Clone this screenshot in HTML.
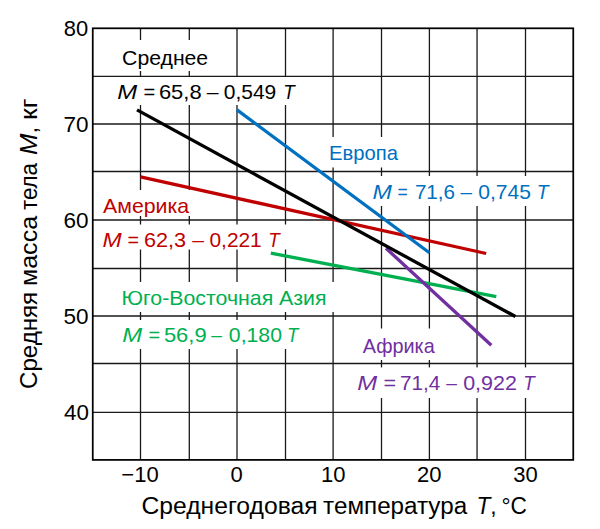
<!DOCTYPE html><html><head><meta charset="utf-8"><style>html,body{margin:0;padding:0;background:#fff;}svg{display:block;}text{font-family:"Liberation Sans",sans-serif;}</style></head><body>
<svg width="600" height="529" viewBox="0 0 600 529">
<rect x="0" y="0" width="600" height="529" fill="#fff"/>
<path d="M140.50 28.05V459.96M189.30 28.05V459.96M237.00 28.05V459.96M285.50 28.05V459.96M333.10 28.05V459.96M381.50 28.05V459.96M429.40 28.05V459.96M477.05 28.05V459.96M525.50 28.05V459.96M92.88 412.30H573.52M92.88 363.50H573.52M92.88 316.00H573.52M92.88 268.50H573.52M92.88 220.00H573.52M92.88 171.50H573.52M92.88 124.00H573.52M92.88 76.30H573.52" stroke="#1a1a1a" stroke-width="1.3" fill="none"/>
<rect x="110" y="40" width="110" height="31" fill="#fff"/>
<rect x="110" y="77" width="190" height="28" fill="#fff"/>
<rect x="320" y="137" width="85" height="30.5" fill="#fff"/>
<rect x="365" y="176" width="190" height="30" fill="#fff"/>
<rect x="98" y="190" width="102" height="26" fill="#fff"/>
<rect x="98" y="224.5" width="192" height="25.0" fill="#fff"/>
<rect x="115" y="282" width="225" height="30" fill="#fff"/>
<rect x="115" y="320" width="190" height="29" fill="#fff"/>
<rect x="355" y="328.5" width="90" height="31.5" fill="#fff"/>
<rect x="350" y="367.4" width="190" height="30.600000000000023" fill="#fff"/>
<rect x="92.75" y="28.3" width="480.5" height="431.59999999999997" stroke="#000" stroke-width="1.75" fill="none"/>
<line x1="140.50" y1="176.84" x2="486.20" y2="253.49" stroke="#c00000" stroke-width="3.3"/>
<line x1="270.80" y1="253.07" x2="496.30" y2="296.55" stroke="#00b050" stroke-width="3.3"/>
<line x1="237.00" y1="109.83" x2="429.40" y2="252.78" stroke="#0070c0" stroke-width="3.3"/>
<line x1="386.00" y1="248.27" x2="491.30" y2="345.20" stroke="#7030a0" stroke-width="3.3"/>
<line x1="137.00" y1="109.89" x2="515.40" y2="316.53" stroke="#000000" stroke-width="3.3"/>
<text x="63.80" y="35.80" font-size="22" fill="#000" textLength="24.42" lengthAdjust="spacingAndGlyphs">80</text>
<text x="63.60" y="131.80" font-size="22" fill="#000" textLength="25.07" lengthAdjust="spacingAndGlyphs">70</text>
<text x="63.60" y="227.80" font-size="22" fill="#000" textLength="25.07" lengthAdjust="spacingAndGlyphs">60</text>
<text x="63.60" y="323.80" font-size="22" fill="#000" textLength="25.07" lengthAdjust="spacingAndGlyphs">50</text>
<text x="64.00" y="419.80" font-size="22" fill="#000" textLength="24.91" lengthAdjust="spacingAndGlyphs">40</text>
<text x="140.00" y="482.40" font-size="22" fill="#000" text-anchor="middle">−10</text>
<text x="236.55" y="482.40" font-size="22" fill="#000" text-anchor="middle">0</text>
<text x="333.25" y="482.40" font-size="22" fill="#000" text-anchor="middle">10</text>
<text x="429.25" y="482.40" font-size="22" fill="#000" text-anchor="middle">20</text>
<text x="525.50" y="482.40" font-size="22" fill="#000" text-anchor="middle">30</text>
<text x="122.10" y="65.35" font-size="20.6" fill="#000" textLength="86.07" lengthAdjust="spacingAndGlyphs">Среднее</text>
<text x="117.30" y="99.35" font-size="20.6" fill="#000" textLength="19.92" lengthAdjust="spacingAndGlyphs"><tspan font-style="italic">M</tspan></text>
<text x="143.45" y="99.35" font-size="20.6" fill="#000" textLength="11.71" lengthAdjust="spacingAndGlyphs">=</text>
<text x="158.90" y="99.35" font-size="20.6" fill="#000" textLength="42.73" lengthAdjust="spacingAndGlyphs">65,8</text>
<text x="206.78" y="99.35" font-size="20.6" fill="#000" textLength="11.81" lengthAdjust="spacingAndGlyphs">–</text>
<text x="223.80" y="99.35" font-size="20.6" fill="#000" textLength="52.49" lengthAdjust="spacingAndGlyphs">0,549</text>
<text x="283.30" y="99.35" font-size="20.6" fill="#000" textLength="11.47" lengthAdjust="spacingAndGlyphs"><tspan font-style="italic">T</tspan></text>
<text x="328.90" y="159.90" font-size="20.6" fill="#0070c0" textLength="69.05" lengthAdjust="spacingAndGlyphs">Европа</text>
<text x="372.50" y="198.80" font-size="20.6" fill="#0070c0" textLength="19.36" lengthAdjust="spacingAndGlyphs"><tspan font-style="italic">M</tspan></text>
<text x="397.50" y="198.80" font-size="20.6" fill="#0070c0" textLength="10.25" lengthAdjust="spacingAndGlyphs">=</text>
<text x="414.88" y="198.80" font-size="20.6" fill="#0070c0" textLength="40.14" lengthAdjust="spacingAndGlyphs">71,6</text>
<text x="460.45" y="198.80" font-size="20.6" fill="#0070c0" textLength="11.50" lengthAdjust="spacingAndGlyphs">–</text>
<text x="478.30" y="198.80" font-size="20.6" fill="#0070c0" textLength="52.68" lengthAdjust="spacingAndGlyphs">0,745</text>
<text x="536.80" y="198.80" font-size="20.6" fill="#0070c0" textLength="11.85" lengthAdjust="spacingAndGlyphs"><tspan font-style="italic">T</tspan></text>
<text x="103.05" y="212.80" font-size="20.6" fill="#c00000" textLength="86.06" lengthAdjust="spacingAndGlyphs">Америка</text>
<text x="102.50" y="247.00" font-size="20.6" fill="#c00000" textLength="19.18" lengthAdjust="spacingAndGlyphs"><tspan font-style="italic">M</tspan></text>
<text x="127.62" y="247.00" font-size="20.6" fill="#c00000" textLength="11.48" lengthAdjust="spacingAndGlyphs">=</text>
<text x="144.00" y="247.00" font-size="20.6" fill="#c00000" textLength="42.11" lengthAdjust="spacingAndGlyphs">62,3</text>
<text x="192.17" y="247.00" font-size="20.6" fill="#c00000" textLength="11.81" lengthAdjust="spacingAndGlyphs">–</text>
<text x="209.47" y="247.00" font-size="20.6" fill="#c00000" textLength="52.28" lengthAdjust="spacingAndGlyphs">0,221</text>
<text x="268.30" y="247.00" font-size="20.6" fill="#c00000" textLength="11.47" lengthAdjust="spacingAndGlyphs"><tspan font-style="italic">T</tspan></text>
<text x="121.50" y="305.00" font-size="20.6" fill="#00b050" textLength="205.05" lengthAdjust="spacingAndGlyphs">Юго-Восточная Азия</text>
<text x="122.30" y="341.80" font-size="20.6" fill="#00b050" textLength="19.92" lengthAdjust="spacingAndGlyphs"><tspan font-style="italic">M</tspan></text>
<text x="148.45" y="341.80" font-size="20.6" fill="#00b050" textLength="11.71" lengthAdjust="spacingAndGlyphs">=</text>
<text x="163.90" y="341.80" font-size="20.6" fill="#00b050" textLength="42.73" lengthAdjust="spacingAndGlyphs">56,9</text>
<text x="211.30" y="341.80" font-size="20.6" fill="#00b050" textLength="10.68" lengthAdjust="spacingAndGlyphs">–</text>
<text x="228.88" y="341.80" font-size="20.6" fill="#00b050" textLength="53.10" lengthAdjust="spacingAndGlyphs">0,180</text>
<text x="286.88" y="341.80" font-size="20.6" fill="#00b050" textLength="11.38" lengthAdjust="spacingAndGlyphs"><tspan font-style="italic">T</tspan></text>
<text x="362.70" y="353.00" font-size="20.6" fill="#7030a0" textLength="72.06" lengthAdjust="spacingAndGlyphs">Африка</text>
<text x="357.30" y="390.10" font-size="20.6" fill="#7030a0" textLength="19.92" lengthAdjust="spacingAndGlyphs"><tspan font-style="italic">M</tspan></text>
<text x="383.40" y="390.10" font-size="20.6" fill="#7030a0" textLength="12.60" lengthAdjust="spacingAndGlyphs">=</text>
<text x="399.95" y="390.10" font-size="20.6" fill="#7030a0" textLength="40.35" lengthAdjust="spacingAndGlyphs">71,4</text>
<text x="446.30" y="390.10" font-size="20.6" fill="#7030a0" textLength="10.68" lengthAdjust="spacingAndGlyphs">–</text>
<text x="463.18" y="390.10" font-size="20.6" fill="#7030a0" textLength="53.73" lengthAdjust="spacingAndGlyphs">0,922</text>
<text x="523.30" y="390.10" font-size="20.6" fill="#7030a0" textLength="11.47" lengthAdjust="spacingAndGlyphs"><tspan font-style="italic">T</tspan></text>
<text x="141.50" y="513.50" font-size="23.5" fill="#000" textLength="176.05" lengthAdjust="spacingAndGlyphs">Среднегодовая</text>
<text x="323.12" y="513.50" font-size="23.5" fill="#000" textLength="144.01" lengthAdjust="spacingAndGlyphs">температура</text>
<text x="476.48" y="513.50" font-size="23.5" fill="#000" textLength="20.19" lengthAdjust="spacingAndGlyphs"><tspan font-style="italic">T</tspan>,</text>
<text x="501.40" y="513.50" font-size="23.5" fill="#000" textLength="25.43" lengthAdjust="spacingAndGlyphs">°C</text>
<text x="37.00" y="389.00" font-size="23.5" fill="#000" textLength="97.14" lengthAdjust="spacingAndGlyphs" transform="rotate(-90 37.00 389.00)">Средняя</text>
<text x="37.00" y="286.00" font-size="23.5" fill="#000" textLength="70.07" lengthAdjust="spacingAndGlyphs" transform="rotate(-90 37.00 286.00)">масса</text>
<text x="37.00" y="210.00" font-size="23.5" fill="#000" textLength="47.03" lengthAdjust="spacingAndGlyphs" transform="rotate(-90 37.00 210.00)">тела</text>
<text x="37.00" y="155.00" font-size="23.5" fill="#000" textLength="28.51" lengthAdjust="spacingAndGlyphs" transform="rotate(-90 37.00 155.00)"><tspan font-style="italic">M</tspan>,</text>
<text x="37.00" y="120.00" font-size="23.5" fill="#000" textLength="21.45" lengthAdjust="spacingAndGlyphs" transform="rotate(-90 37.00 120.00)">кг</text>
</svg></body></html>
